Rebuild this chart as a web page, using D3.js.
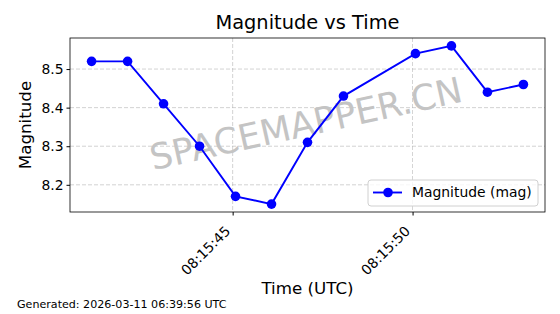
<!DOCTYPE html>
<html>
<head>
<meta charset="utf-8">
<title>Magnitude vs Time</title>
<script src="https://d3js.org/d3.v7.min.js"></script>
<style>
  body { margin: 0; background: #fff; }
  text { font-family: "DejaVu Sans", sans-serif; }
</style>
</head>
<body>
<div id="chart"></div>
<script>
// data
let times = ["08:15:41.08", "08:15:42.08", "08:15:43.08", "08:15:44.08", "08:15:45.08", "08:15:46.08",
             "08:15:47.08", "08:15:48.08", "08:15:50.08", "08:15:51.08", "08:15:52.08", "08:15:53.08"];
let mags = [8.52, 8.52, 8.41, 8.30, 8.17, 8.15, 8.31, 8.43, 8.54, 8.56, 8.44, 8.46];
let xTicks = ["08:15:45", "08:15:50"];
let yTicks = [8.2, 8.3, 8.4, 8.5];

let W = 560, H = 314;
let margin = {top: 38, right: 15, bottom: 102, left: 70};
let w = W - margin.left - margin.right;
let h = H - margin.top - margin.bottom;

let parse = d3.utcParse("%Y-%m-%d %H:%M:%S.%L");
let parseS = d3.utcParse("%Y-%m-%d %H:%M:%S");
let day = "2026-03-11 ";
let data = times.map((t, i) => ({t: parse(day + t + "0"), m: mags[i]}));

let svg = d3.select("#chart").append("svg")
    .attr("width", W).attr("height", H);
let g = svg.append("g")
    .attr("transform", "translate(" + margin.left + "," + margin.top + ")");

// matplotlib-style 5% margins
let tExt = d3.extent(data, d => d.t.getTime());
let tPad = (tExt[1] - tExt[0]) * 0.05;
let xScale = d3.scaleUtc()
    .domain([new Date(tExt[0] - tPad), new Date(tExt[1] + tPad)])
    .range([0, w]);

let mExt = d3.extent(mags);
let mPad = (mExt[1] - mExt[0]) * 0.05;
let yScale = d3.scaleLinear()
    .domain([mExt[0] - mPad, mExt[1] + mPad])
    .range([h, 0]);

let xTickDates = xTicks.map(s => parseS(day + s));

// grid
g.append("g").selectAll("line").data(yTicks).enter().append("line")
    .attr("x1", 0).attr("x2", w)
    .attr("y1", d => yScale(d)).attr("y2", d => yScale(d))
    .attr("stroke", "#b0b0b0").attr("stroke-width", 0.8)
    .attr("stroke-dasharray", "4,2").attr("opacity", 0.7);
g.append("g").selectAll("line").data(xTickDates).enter().append("line")
    .attr("y1", 0).attr("y2", h)
    .attr("x1", d => xScale(d)).attr("x2", d => xScale(d))
    .attr("stroke", "#b0b0b0").attr("stroke-width", 0.8)
    .attr("stroke-dasharray", "4,2").attr("opacity", 0.7);

// watermark
g.append("text")
    .attr("transform", "translate(" + (w / 2 - 1) + "," + (h / 2 + 1) + ") rotate(-12.5)")
    .attr("text-anchor", "middle").attr("dominant-baseline", "middle")
    .attr("font-size", 35.5).attr("fill", "#c4c4c4")
    .text("SPACEMAPPER.CN");

// line + markers
let line = d3.line().x(d => xScale(d.t)).y(d => yScale(d.m));
g.append("path").datum(data)
    .attr("d", line).attr("fill", "none")
    .attr("stroke", "#0000ff").attr("stroke-width", 1.9);
g.selectAll("circle.pt").data(data).enter().append("circle")
    .attr("class", "pt")
    .attr("cx", d => xScale(d.t)).attr("cy", d => yScale(d.m))
    .attr("r", 4.8).attr("fill", "#0000ff");

// axes
let xAxis = d3.axisBottom(xScale).tickValues(xTickDates)
    .tickFormat(d3.utcFormat("%H:%M:%S")).tickSizeOuter(0).tickSize(3.5);
let xg = g.append("g").attr("transform", "translate(0," + h + ")").call(xAxis);
xg.select(".domain").remove();
xg.selectAll("text")
    .attr("font-size", 13.9).attr("fill", "#000")
    .attr("text-anchor", "end")
    .attr("dy", 0).attr("y", 0).attr("x", 0)
    .attr("transform", "translate(-2,20) rotate(-45)");

let yAxis = d3.axisLeft(yScale).tickValues(yTicks)
    .tickFormat(d3.format(".1f")).tickSizeOuter(0).tickSize(3.5);
let yg = g.append("g").call(yAxis);
yg.select(".domain").remove();
yg.selectAll("text").attr("font-size", 13.9).attr("fill", "#000");

// frame
g.append("rect").attr("width", w).attr("height", h)
    .attr("fill", "none").attr("stroke", "#000").attr("stroke-width", 0.8);

// legend
let lg = g.append("g").attr("transform", "translate(" + (w - 177) + "," + (h - 32) + ")");
lg.append("rect").attr("width", 170).attr("height", 26).attr("rx", 3)
    .attr("fill", "#fff").attr("fill-opacity", 0.8).attr("stroke", "#d0d0d0");
lg.append("line").attr("x1", 5).attr("x2", 34).attr("y1", 12.5).attr("y2", 12.5)
    .attr("stroke", "#0000ff").attr("stroke-width", 1.9);
lg.append("circle").attr("cx", 20).attr("cy", 12.5).attr("r", 4.8).attr("fill", "#0000ff");
lg.append("text").attr("x", 44).attr("y", 12.5).attr("dy", "0.35em")
    .attr("font-size", 13.9).text("Magnitude (mag)");

// titles
svg.append("text").attr("x", margin.left + w / 2).attr("y", 29)
    .attr("text-anchor", "middle").attr("font-size", 19.4).text("Magnitude vs Time");
svg.append("text").attr("x", margin.left + w / 2).attr("y", 294)
    .attr("text-anchor", "middle").attr("font-size", 16.7).text("Time (UTC)");
svg.append("text")
    .attr("transform", "translate(31," + (margin.top + h / 2) + ") rotate(-90)")
    .attr("text-anchor", "middle").attr("font-size", 16.7).text("Magnitude");
svg.append("text").attr("x", 17).attr("y", 308)
    .attr("font-size", 11.1).text("Generated: 2026-03-11 06:39:56 UTC");
</script>
</body>
</html>
